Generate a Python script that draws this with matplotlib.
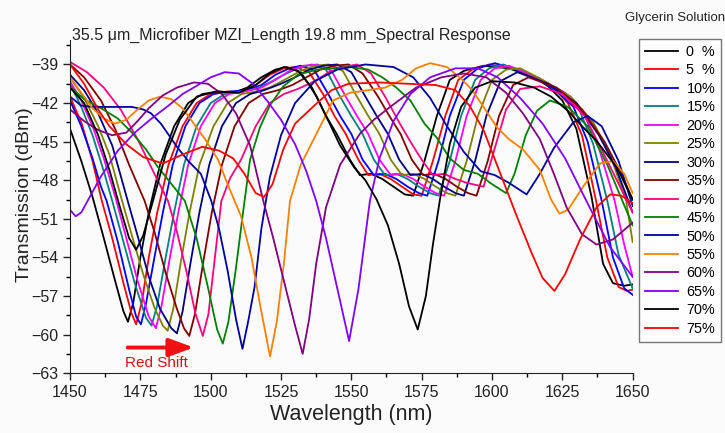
"""
plot.py - Respuesta espectral del MZI de microfibra con glicerina
"""
import numpy as np
import matplotlib.pyplot as plt
from matplotlib.ticker import MultipleLocator

plt.rcParams['font.family'] = ['Liberation Sans', 'DejaVu Sans']

# Datos: (longitud de onda nm, transmision dBm)
conc_labels = ['0  %', '5  %', '10%', '15%', '20%', '25%', '30%', '35%',
               '40%', '45%', '50%', '55%', '60%', '65%', '70%', '75%']
colors = ['#000000', '#ff0000', '#0000ff', '#008080', '#ff00ff', '#808000',
          '#000080', '#800000', '#ff0080', '#008000', '#0000a0', '#ff8000',
          '#800080', '#8000ff', '#000000', '#ff0000']

g00 = [(1450, -44.0), (1454, -46.5), (1458, -49.3), (1462, -52.5), (1466, -55.8), (1469, -58.2),
       (1470.6, -59.0), (1472.5, -57.5), (1475, -54.0), (1478, -50.5), (1482, -46.8), (1487, -43.8),
       (1492, -42.0), (1497, -41.3), (1503, -41.1), (1508, -41.2), (1513, -40.8), (1518, -40.0),
       (1523, -39.4), (1527, -39.2), (1532, -39.6), (1537.7, -41.5), (1541, -43.0), (1544.8, -44.4),
       (1549.5, -46.4), (1553, -47.6), (1557, -47.5), (1561, -47.9), (1565, -48.5), (1569, -49.1),
       (1572, -49.2), (1576, -46.5), (1580.4, -43.0), (1585, -40.2), (1590, -39.5), (1597, -39.1),
       (1606, -39.3), (1615, -40.0), (1620, -40.7), (1625, -41.8), (1630, -44.0), (1635.4, -49.3),
       (1639.5, -54.5), (1643, -56.0), (1647, -56.2), (1650, -56.1)]
g05 = [(1450, -41.5), (1454, -43.5), (1458, -46.5), (1461.3, -49.6), (1465, -52.5), (1469, -56.0),
       (1471.8, -58.3), (1473.5, -59.2), (1475.5, -57.5), (1478, -54.0), (1481, -50.5), (1485, -46.8),
       (1490, -43.8), (1495, -42.0), (1500, -41.3), (1506, -41.1), (1511, -41.2), (1516, -40.6),
       (1521, -39.8), (1526, -39.3), (1530, -39.2), (1535, -39.6), (1540.5, -41.5), (1544, -43.0),
       (1548, -44.4), (1552.5, -46.4), (1556, -47.6), (1560, -47.5), (1564, -47.9), (1568, -48.5),
       (1572, -49.1), (1575, -49.2), (1579, -46.5), (1583.4, -43.0), (1588, -40.2), (1593, -39.4),
       (1599, -39.0), (1608, -39.3), (1617, -40.1), (1622, -40.8), (1627, -42.0), (1632, -44.5),
       (1637, -49.6), (1641, -54.0), (1645, -56.3), (1648, -56.6), (1650, -56.5)]
g10 = [(1450, -41.8), (1454, -43.8), (1458, -46.3), (1461, -48.5), (1463, -49.6), (1467, -52.8),
       (1471, -56.5), (1473.5, -58.6), (1475.2, -59.2), (1477, -57.6), (1480, -54.0), (1483, -50.5),
       (1486.5, -46.8), (1491, -43.8), (1496, -42.0), (1501, -41.3), (1507, -41.1), (1513, -41.0),
       (1518, -40.6), (1523, -39.8), (1528, -39.3), (1532, -39.1), (1537, -39.5), (1542.3, -41.5),
       (1546, -43.0), (1550, -44.4), (1554, -46.4), (1558, -47.6), (1562, -47.5), (1566, -47.9),
       (1570, -48.5), (1574, -49.0), (1577, -49.2), (1581, -46.5), (1585, -43.0), (1590, -40.2),
       (1595, -39.3), (1601, -38.9), (1612, -39.6), (1622, -40.9), (1629, -42.3), (1634, -45.0),
       (1639, -49.6), (1643, -54.0), (1647, -56.4), (1650, -56.9)]
g15 = [(1450, -40.5), (1454, -42.3), (1458, -44.5), (1462, -47.3), (1465, -49.6), (1469, -52.8),
       (1473, -56.0), (1477, -58.7), (1479, -59.3), (1481, -57.7), (1484, -54.0), (1487, -50.5),
       (1490.5, -46.8), (1495, -43.8), (1500, -42.0), (1505, -41.3), (1511, -41.1), (1516, -40.9),
       (1521, -40.4), (1526, -39.8), (1531, -39.3), (1536, -39.0), (1541, -39.4), (1546, -41.5),
       (1550, -43.0), (1554, -44.4), (1558, -46.4), (1562, -47.6), (1566, -47.5), (1570, -47.9),
       (1574, -48.5), (1578, -49.0), (1581, -49.2), (1585, -46.5), (1589, -43.0), (1594, -40.2),
       (1599, -39.3), (1604, -39.0), (1614, -39.8), (1624, -41.0), (1631, -42.5), (1636, -45.2),
       (1641, -49.6), (1645, -53.8), (1650, -56.4)]
g20 = [(1450, -40.3), (1454, -41.8), (1458, -43.8), (1462, -46.3), (1466.5, -49.6), (1470, -52.5),
       (1474, -55.8), (1478, -58.6), (1480.5, -59.5), (1482.5, -57.8), (1485.5, -54.0), (1488.5, -50.5),
       (1492, -46.8), (1496.5, -43.8), (1501.5, -42.0), (1506.5, -41.3), (1512, -41.1), (1518, -40.8),
       (1523, -40.2), (1528, -39.5), (1533, -39.1), (1538, -39.0), (1543, -39.5), (1548, -41.5),
       (1552, -43.0), (1556, -44.4), (1560, -46.4), (1564, -47.6), (1568, -47.5), (1572, -47.9),
       (1576, -48.5), (1580, -49.0), (1583, -49.2), (1587, -46.5), (1591, -43.0), (1596, -40.2),
       (1601, -39.3), (1606, -39.1), (1616, -40.0), (1626, -41.2), (1633, -43.0), (1638, -45.5),
       (1643.6, -49.6), (1647, -53.0), (1650, -55.5)]
g25 = [(1450, -40.0), (1455, -41.6), (1460, -43.8), (1464, -46.0), (1468.5, -49.6), (1472, -52.3),
       (1476, -55.3), (1480, -57.9), (1483, -59.3), (1484.7, -59.7), (1486.7, -58.0), (1489.5, -54.2),
       (1492.5, -50.5), (1496, -46.8), (1501, -43.8), (1506, -42.0), (1511, -41.3), (1516, -41.1),
       (1521, -40.8), (1527, -40.1), (1532, -39.5), (1537, -39.1), (1542, -39.0), (1547, -39.5),
       (1552, -41.5), (1556, -43.0), (1560, -44.4), (1564, -46.4), (1568, -47.6), (1572, -47.5),
       (1576, -47.9), (1580, -48.5), (1584, -49.0), (1587, -49.2), (1591, -46.5), (1595, -43.0),
       (1600, -40.2), (1605, -39.4), (1610, -39.3), (1618, -40.2), (1628, -41.5), (1636, -43.5),
       (1642, -46.0), (1647.7, -49.6), (1650, -52.8)]
g30 = [(1450, -39.8), (1455, -41.0), (1460, -42.8), (1465, -45.3), (1470.5, -49.6), (1474, -52.3),
       (1478, -55.5), (1482, -58.0), (1486, -59.5), (1488, -59.9), (1490, -58.2), (1493, -54.2),
       (1496, -50.5), (1499.5, -46.8), (1504, -43.8), (1509, -42.0), (1514, -41.3), (1519, -41.0),
       (1525, -40.5), (1530, -40.0), (1535, -39.4), (1540, -39.1), (1545, -39.0), (1550, -39.6),
       (1555, -41.5), (1559, -43.0), (1563, -44.4), (1567, -46.4), (1571, -47.6), (1575, -47.5),
       (1579, -47.9), (1583, -48.5), (1587, -49.0), (1590, -49.2), (1594, -46.5), (1598, -43.0),
       (1603, -40.3), (1609, -39.6), (1620, -40.5), (1630, -42.0), (1638, -44.5), (1644, -47.0),
       (1650, -50.5)]
g35 = [(1450, -39.0), (1455, -40.0), (1461, -41.8), (1466, -44.0), (1471, -46.8), (1476.5, -49.6),
       (1480, -52.0), (1484, -55.2), (1488, -58.0), (1490.5, -59.5), (1492.4, -60.1), (1494.4, -58.4),
       (1497.4, -54.3), (1500.4, -50.5), (1504, -46.8), (1508.5, -43.8), (1513.5, -42.0), (1518.5, -41.3),
       (1524, -41.0), (1529, -40.6), (1534, -40.0), (1539, -39.4), (1544, -39.1), (1549, -39.0),
       (1554, -39.7), (1559.5, -41.5), (1563.5, -43.0), (1567.5, -44.4), (1571.5, -46.4), (1575.5, -47.6),
       (1579.5, -47.5), (1583.5, -47.9), (1587.5, -48.5), (1591.5, -49.0), (1594.5, -49.2), (1598.5, -46.5),
       (1602.5, -43.0), (1607.5, -40.6), (1613, -40.0), (1623, -40.8), (1632, -42.5), (1640, -45.0),
       (1646, -47.5), (1650, -49.5)]
g40 = [(1450, -38.8), (1456, -39.6), (1462, -40.8), (1468, -42.5), (1474, -44.8), (1480, -47.5),
       (1484.8, -49.6), (1488, -52.0), (1491.5, -55.2), (1494.5, -58.3), (1497.2, -60.1), (1499.2, -58.4),
       (1501.5, -54.0), (1503.8, -49.6), (1507, -47.8), (1510.8, -46.4), (1516, -43.8), (1521, -42.0),
       (1526, -41.3), (1531, -40.9), (1537, -40.3), (1542, -39.6), (1547, -39.2), (1552, -39.0),
       (1557, -39.7), (1562, -41.5), (1567, -43.5), (1571, -45.0), (1575, -46.4), (1579, -47.6),
       (1583, -47.5), (1587, -47.9), (1591, -48.2), (1597, -48.5), (1601, -45.5), (1605, -42.5),
       (1610, -40.9), (1617, -40.7), (1625, -41.3), (1633, -43.0), (1641, -46.5), (1650, -50.5)]
g45 = [(1450, -40.7), (1455, -41.7), (1461, -42.4), (1467, -43.2), (1472, -44.3), (1477, -45.6),
       (1481, -46.9), (1485, -48.0), (1490.8, -49.6), (1495, -52.5), (1499, -56.3), (1502.3, -59.6),
       (1504.3, -60.7), (1506.3, -59.0), (1509, -54.8), (1511.5, -50.5), (1514, -46.4), (1517.5, -43.9),
       (1521, -42.2), (1525.8, -40.7), (1531, -39.8), (1537.8, -39.4), (1549.5, -39.2), (1556, -39.4),
       (1561, -40.0), (1566, -40.8), (1571, -41.8), (1576, -43.6), (1580.4, -44.7), (1585, -46.3),
       (1590, -47.2), (1595, -47.5), (1600, -48.3), (1605, -49.0), (1608, -47.5), (1612, -44.5),
       (1616, -42.6), (1620.6, -41.8), (1627, -42.3), (1634, -43.8), (1641, -46.8), (1650, -51.5)]
g50 = [(1450, -41.5), (1454, -42.2), (1458, -42.3), (1465, -42.3), (1472, -42.3), (1476, -42.5),
       (1478.8, -42.8), (1482.3, -43.6), (1488, -45.4), (1492, -46.5), (1496.5, -47.5), (1500.2, -49.6),
       (1503, -51.8), (1506, -55.0), (1509, -58.8), (1511.3, -61.1), (1513.3, -59.0), (1515.6, -56.3),
       (1518, -51.8), (1521, -47.8), (1525, -44.5), (1530, -42.0), (1537, -40.3), (1545, -39.4),
       (1555, -39.0), (1565, -39.2), (1572, -40.0), (1578, -41.6), (1584, -43.8), (1590, -45.8),
       (1596, -47.3), (1601, -47.6), (1606, -48.2), (1612.3, -49.1), (1617, -47.5), (1622, -45.5),
       (1628.9, -43.5), (1634, -43.0), (1639, -43.8), (1645, -46.5), (1650, -50.0)]
g55 = [(1450, -40.0), (1454, -41.2), (1458, -42.4), (1462, -43.2), (1466, -43.6), (1470, -43.3),
       (1474, -42.5), (1478, -41.8), (1482, -41.5), (1486, -41.7), (1490, -42.4), (1494, -43.6),
       (1498, -44.8), (1502.6, -46.4), (1506, -48.3), (1510.8, -50.8), (1514.5, -54.0), (1518, -58.2),
       (1521.1, -61.7), (1523.5, -59.0), (1526, -54.5), (1528.2, -49.6), (1532, -46.8), (1537.8, -44.3),
       (1543.5, -41.8), (1549.5, -41.2), (1556, -41.0), (1562, -40.8), (1568, -40.2), (1573, -39.3),
       (1578, -38.9), (1584, -39.2), (1589, -40.1), (1593, -41.0), (1597, -42.3), (1601.8, -43.9),
       (1606, -44.8), (1611, -45.6), (1617, -47.2), (1621, -49.5), (1624, -50.6), (1627, -50.3),
       (1632.4, -48.5), (1638.4, -46.7), (1643, -46.5), (1647, -47.5), (1650, -49.0)]
g60 = [(1450, -42.5), (1455, -43.4), (1460, -44.1), (1465, -44.5), (1470, -44.3), (1474, -43.4),
       (1478, -42.4), (1483, -41.4), (1488, -40.8), (1494, -40.4), (1499, -40.5), (1504, -41.3),
       (1509, -42.8), (1514, -45.3), (1518.7, -49.6), (1522, -52.3), (1526, -55.8), (1530, -59.3),
       (1532.7, -61.5), (1535, -58.8), (1537.5, -54.5), (1541, -50.1), (1546, -46.8), (1553, -44.4),
       (1558, -43.3), (1563.8, -42.3), (1573, -40.8), (1582, -40.0), (1590, -39.7), (1598, -40.0),
       (1605, -41.2), (1611, -42.8), (1617, -44.8), (1622, -47.5), (1626.5, -50.1), (1632, -52.2),
       (1637.2, -53.0), (1643, -52.6), (1650, -51.3)]
g65 = [(1450, -50.3), (1452, -50.8), (1454, -50.5), (1457, -49.3), (1461, -47.7), (1467, -45.7),
       (1473, -44.3), (1479, -43.2), (1485, -42.2), (1490, -41.3), (1494.7, -40.7), (1500, -40.0),
       (1505, -39.6), (1510, -39.7), (1515, -40.5), (1520, -41.8), (1525, -43.3), (1530, -45.2),
       (1534, -47.3), (1537.5, -49.6), (1541, -52.5), (1545, -56.4), (1549.2, -60.5), (1552.5, -56.5),
       (1556.6, -49.6), (1560, -46.3), (1565, -43.4), (1571, -41.3), (1578, -40.0), (1587, -39.3),
       (1595, -39.3), (1602, -40.0), (1610, -41.6), (1618, -43.6), (1626, -46.3), (1634, -49.8),
       (1642, -53.2), (1650, -55.5)]
g70 = [(1450, -40.8), (1455, -42.0), (1460, -44.5), (1464, -47.2), (1468, -50.3), (1471, -52.5),
       (1473.5, -53.4), (1476, -52.3), (1479.5, -49.6), (1484, -46.0), (1489, -43.3), (1495, -41.5),
       (1502, -41.1), (1510, -41.2), (1516, -40.6), (1521, -39.7), (1526, -39.2), (1531, -39.5),
       (1536, -40.8), (1541, -43.0), (1546, -45.3), (1551, -47.0), (1555, -48.0), (1559, -49.5),
       (1563, -51.5), (1567, -54.5), (1570.5, -57.8), (1573.6, -59.6), (1576.5, -57.0), (1579, -53.0),
       (1581.5, -49.5), (1585, -45.2), (1589, -42.3), (1594, -40.8), (1600, -40.3), (1608, -40.4),
       (1615, -40.8), (1621, -41.5), (1627, -42.6), (1632, -43.8), (1637, -44.9), (1644.4, -47.0),
       (1650, -49.5)]
g75 = [(1450, -39.0), (1455, -40.5), (1460, -42.5), (1464, -43.8), (1470, -45.2), (1476, -46.2),
       (1483, -46.7), (1490, -46.0), (1497, -45.4), (1503, -45.7), (1508, -46.3), (1512, -47.5),
       (1516, -49.0), (1519, -49.3), (1522, -48.3), (1525.8, -45.6), (1530, -43.6), (1537.8, -42.0),
       (1543, -41.0), (1549, -40.5), (1560, -40.4), (1570, -40.5), (1580, -40.6), (1587, -41.0),
       (1592, -42.2), (1597, -44.1), (1603, -47.5), (1609, -50.9), (1614, -53.6), (1618, -55.6),
       (1622.2, -56.6), (1626, -55.3), (1631.3, -52.6), (1637.2, -50.1), (1642, -49.1), (1646, -49.2),
       (1650, -49.8)]

series = [g00, g05, g10, g15, g20, g25, g30, g35, g40, g45, g50, g55, g60, g65, g70, g75]

# Grafico
fig = plt.figure(figsize=(7.25, 4.33), dpi=100, facecolor='#fbfbfb')
ax = fig.add_axes([0.0966, 0.138, 0.776, 0.7696])
ax.set_facecolor('#fbfbfb')

for pts, lab, col in zip(series, conc_labels, colors):
    wl, tr = np.array(pts).T
    ax.plot(wl, tr, color=col, lw=1.3, label=lab)

ax.set_xlim(1450, 1650)
ax.set_ylim(-63, -37.1)
ax.xaxis.set_major_locator(MultipleLocator(25))
ax.xaxis.set_minor_locator(MultipleLocator(12.5))
ax.set_yticks(np.arange(-63, -38, 3))
ax.yaxis.set_minor_locator(MultipleLocator(1.5))
ax.tick_params(which='major', direction='out', length=5, width=1, labelsize=11.5, colors='#222222')
ax.tick_params(which='minor', direction='out', length=3, width=1)
for s in ['top', 'right']:
    ax.spines[s].set_visible(False)
for s in ['left', 'bottom']:
    ax.spines[s].set_color('#222222')

ax.set_xlabel('Wavelength (nm)', fontsize=15.5, color='#222222', labelpad=3)
ax.set_ylabel('Transmission (dBm)', fontsize=14, color='#222222')
ax.yaxis.set_label_coords(-0.066, 0.535)
ax.set_title('35.5 \u03bcm_Microfiber MZI_Length 19.8 mm_Spectral Response',
             fontsize=11.5, loc='left', x=0.003, y=0.975, color='#222222')

# Flecha "Red Shift"
ax.annotate('', xy=(1495, -61.0), xytext=(1469.5, -61.0),
            arrowprops=dict(arrowstyle='-|>,head_length=1.5,head_width=0.55', color='#ee1111', lw=2.8))
ax.text(1469.5, -62.2, 'Red Shift', color='#dd1111', fontsize=11, va='center', ha='left')

# Leyenda (titulo encima del recuadro)
fig.text(0.862, 0.958, 'Glycerin Solution', fontsize=9.5, ha='left', va='center', color='#222222')
leg = fig.legend(loc='upper left', bbox_to_anchor=(0.881, 0.91), fontsize=10.4, frameon=True,
                 fancybox=False, edgecolor='#555555', handlelength=2.3, labelspacing=0.31,
                 borderpad=0.4, handletextpad=0.6, borderaxespad=0)
leg.get_frame().set_linewidth(1.0)
leg.get_frame().set_facecolor('white')

plt.savefig('out.png', dpi=100, facecolor=fig.get_facecolor())
